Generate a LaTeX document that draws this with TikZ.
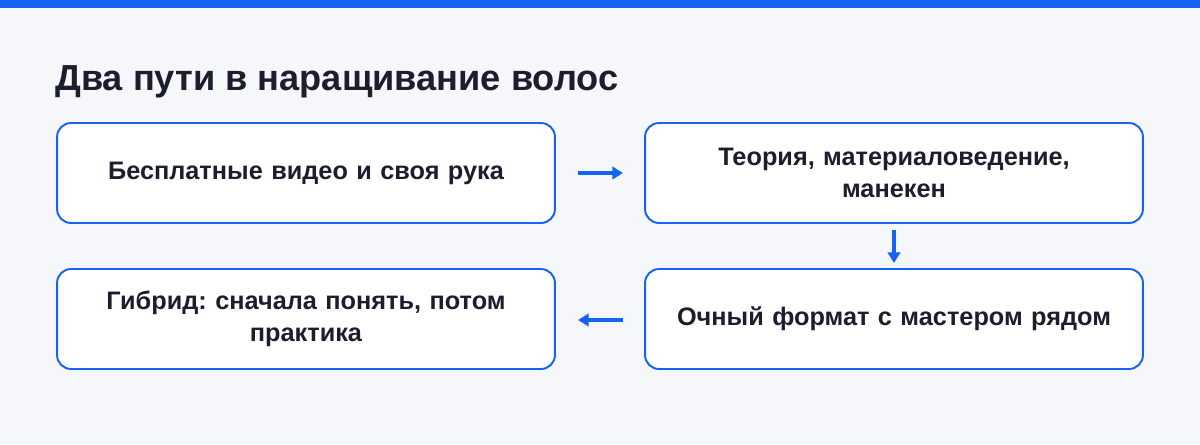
\documentclass[tikz,border=0pt]{standalone}
\usepackage{fontspec}
\setmainfont{Liberation Sans}
\usetikzlibrary{arrows.meta}
\definecolor{bg}{HTML}{F5F7FB}
\definecolor{blu}{HTML}{1463F3}
\definecolor{ink}{HTML}{1C1E2E}
\frenchspacing
\begin{document}
\begin{tikzpicture}[x=0.02cm,y=-0.02cm,
 box/.style={draw=blu,line width=1.1pt,fill=white,rounded corners=0.28cm,minimum width=9.96cm,minimum height=2cm,align=center,text width=9.2cm,font=\bfseries\fontsize{14.4}{18.2}\selectfont,text=ink},
 arr/.style={draw=blu,line width=1.8pt,-{Triangle[length=6pt,width=7pt]}}]
\useasboundingbox (0,0) rectangle (1200,444);
\fill[bg] (0,0) rectangle (1200,444);
\fill[blu] (0,0) rectangle (1200,8);
\node[anchor=base west,inner sep=0,text=ink,font=\bfseries\fontsize{20.6}{24}\selectfont] (t) at (55,90) {Два пути в наращивание волос};
\node[box] (a) at (306,173) {Бесплатные видео и своя рука};
\node[box] (b) at (894,173) {Теория, материаловедение,\\манекен};
\node[box] (c) at (894,319) {Очный формат с мастером рядом};
\node[box] (d) at (306,319) {Гибрид: сначала понять, потом\\практика};
\coordinate (a1) at (578,173); \coordinate (a2) at (623,173);
\coordinate (b1) at (894,230); \coordinate (b2) at (894,263);
\coordinate (c1) at (623,320); \coordinate (c2) at (578,320);
\draw[arr] (a1) -- (a2);
\draw[arr] (b1) -- (b2);
\draw[arr] (c1) -- (c2);
\end{tikzpicture}
\end{document}
